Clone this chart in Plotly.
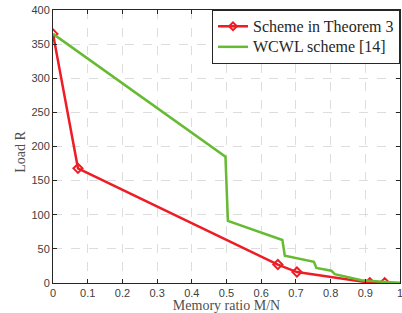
import plotly.graph_objects as go

# Data
red_x = [0.0, 0.072, 0.648, 0.703, 0.913, 0.956, 1.0]
red_y = [365, 168, 27, 16, 0.5, 0.5, 0]
red_marker_x = [0.0, 0.072, 0.648, 0.703, 0.913, 0.956]
red_marker_y = [365, 168, 27, 16, 0.5, 0.5]

green_x = [0.0, 0.497, 0.504, 0.661, 0.668, 0.752, 0.759, 0.802, 0.812, 0.836, 0.889, 1.0]
green_y = [365, 185, 91, 63, 40, 31, 22, 18, 13, 10, 4, 0]

x_ticks = [0, 0.1, 0.2, 0.3, 0.4, 0.5, 0.6, 0.7, 0.8, 0.9, 1]
x_tick_labels = ["0", "0.1", "0.2", "0.3", "0.4", "0.5", "0.6", "0.7", "0.8", "0.9", "1"]
y_ticks = [0, 50, 100, 150, 200, 250, 300, 350, 400]

series_names = ["Scheme in Theorem 3", "WCWL scheme [14]"]

RED = "#EE1C25"
GREEN = "#66BB33"
serif = "Liberation Serif, Times New Roman, serif"
sans = "Liberation Sans, Arial, sans-serif"


def big(s):
    return "<span style='font-size:16px'>" + s + "</span>"


fig = go.Figure()
fig.add_trace(go.Scatter(
    x=red_x, y=red_y, mode="lines", line=dict(color=RED, width=2.5),
    showlegend=False, hoverinfo="skip"))
fig.add_trace(go.Scatter(
    x=red_marker_x, y=red_marker_y, mode="markers",
    marker=dict(symbol="diamond-open", size=7, color=RED, line=dict(width=2, color=RED)),
    showlegend=False))
fig.add_trace(go.Scatter(
    x=[None], y=[None], mode="lines+markers", name=big(series_names[0]),
    line=dict(color=RED, width=2.5),
    marker=dict(symbol="diamond-open", size=6, color=RED, line=dict(width=2, color=RED))))
fig.add_trace(go.Scatter(
    x=green_x, y=green_y, mode="lines", name=big(series_names[1]),
    line=dict(color=GREEN, width=2.5)))

axis_common = dict(
    showline=True, linecolor="#262626", linewidth=1, mirror="ticks",
    ticks="inside", ticklen=4, tickcolor="#262626",
    showgrid=True, gridcolor="#DDDDDD", griddash="dash", gridwidth=1,
    zeroline=False, tickfont=dict(family=sans, size=11, color="#404040"),
    automargin=False, ticklabeloverflow="allow",
)

fig.update_xaxes(range=[0, 1], tickvals=x_ticks, ticktext=x_tick_labels,
                 title=dict(text="Memory ratio M/N", font=dict(family=serif, size=14, color="#505050")),
                 **axis_common)
fig.update_yaxes(range=[0, 400], tickvals=y_ticks, **axis_common)

fig.add_annotation(text="Load R", xref="paper", yref="paper", x=-0.093, y=0.48,
                   xanchor="center", yanchor="middle", textangle=-90, showarrow=False,
                   font=dict(family=serif, size=14, color="#505050"))

fig.update_layout(
    width=402, height=313,
    margin=dict(l=53, r=2, t=10, b=30, autoexpand=False),
    paper_bgcolor="white", plot_bgcolor="white",
    legend=dict(x=1, y=1, xanchor="right", yanchor="top",
                bgcolor="white", bordercolor="#262626", borderwidth=1,
                font=dict(family=serif, size=13.5, color="#262626"),
                tracegroupgap=0, itemwidth=30),
)

fig.write_html("out.html", config={"displayModeBar": False},
               post_script="document.body.style.margin='0';document.body.style.overflow='hidden';")
